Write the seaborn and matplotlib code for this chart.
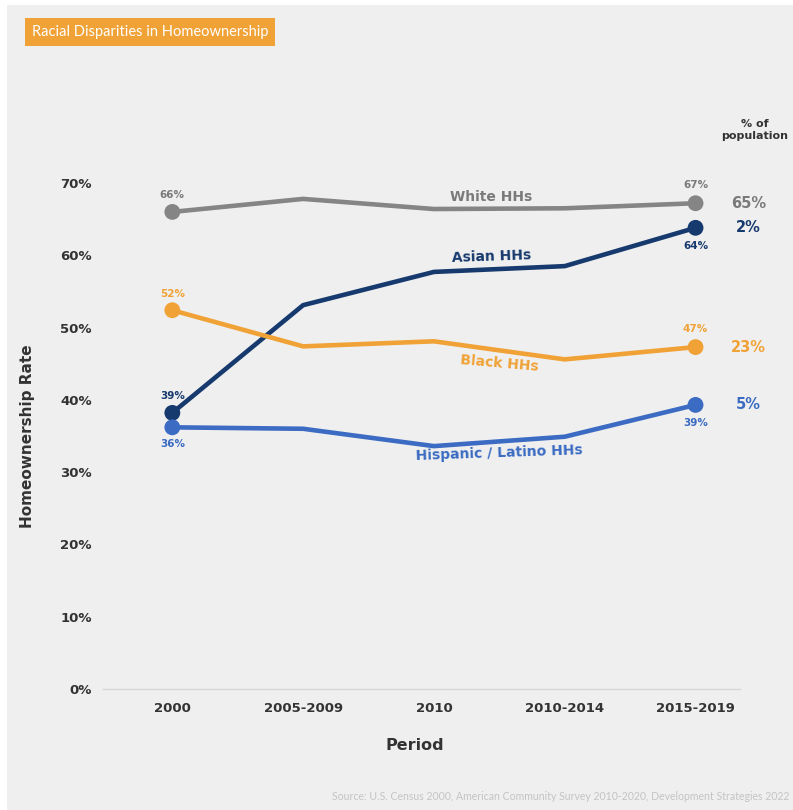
import pandas as pd
import seaborn as sns
import matplotlib.pyplot as plt
from matplotlib.patches import Rectangle

# data
periods = ["2000", "2005-2009", "2010", "2010-2014", "2015-2019"]
groups = ["White HHs", "Asian HHs", "Black HHs", "Hispanic / Latino HHs"]
white = [66.0, 67.8, 66.4, 66.5, 67.2]
asian = [38.2, 53.1, 57.7, 58.5, 63.8]
black = [52.4, 47.4, 48.1, 45.6, 47.3]
hispanic = [36.2, 36.0, 33.6, 34.9, 39.3]
start_labels = ["66%", "39%", "52%", "36%"]
end_labels = ["67%", "64%", "47%", "39%"]
pop_share = ["65%", "2%", "23%", "5%"]

colors = {"White HHs": "#858585", "Asian HHs": "#173a6e",
          "Black HHs": "#f0a236", "Hispanic / Latino HHs": "#3b6bc2"}
label_colors = {"White HHs": "#7a7a7a", "Asian HHs": "#173a6e",
                "Black HHs": "#f0a236", "Hispanic / Latino HHs": "#3b6bc2"}
start_side = [1, 1, 1, -1]
end_side = [1, -1, 1, -1]
# inline series names (x in category units, y in %), rotation
name_pos = [(2.44, 68.0, 0), (2.44, 59.8, 2), (2.50, 45.0, -5), (2.50, 32.6, 2)]

rows = []
for g, vals in zip(groups, [white, asian, black, hispanic]):
    for i, v in enumerate(vals):
        rows.append({"group": g, "pos": i, "period": periods[i], "rate": v})
df = pd.DataFrame(rows)
ends = df[df["pos"].isin([0, len(periods) - 1])]

sns.set_theme(style="white")
plt.rcParams["font.family"] = ["DejaVu Sans"]

fig = plt.figure(figsize=(7.93, 8.10), dpi=100, facecolor="white")
fig.patches.append(Rectangle((7 / 793, 0), 1, 805 / 810, transform=fig.transFigure,
                             facecolor="#efefef", edgecolor="none", zorder=-10))
ax = fig.add_axes([103 / 793, 121 / 810, 637 / 793, 506 / 810])
ax.set_facecolor("#efefef")

sns.lineplot(data=df, x="pos", y="rate", hue="group", palette=colors,
             linewidth=3.3, legend=False, sort=False, ax=ax, clip_on=False)
sns.scatterplot(data=ends, x="pos", y="rate", hue="group", palette=colors,
                s=130, edgecolor="none", legend=False, ax=ax, clip_on=False, zorder=5)

ax.set_xlim(-0.53, 4.34)
ax.set_ylim(0, 70)
ax.set_xticks(range(len(periods)))
ax.set_xticklabels(periods)
ax.set_yticks(range(0, 71, 10))
ax.set_yticklabels([f"{t}%" for t in range(0, 71, 10)])
ax.tick_params(length=0, labelsize=9.5, labelcolor="#333333", pad=8)
for lab in ax.get_xticklabels() + ax.get_yticklabels():
    lab.set_fontweight("bold")
ax.tick_params(axis="x", pad=9)

for s in ["top", "right", "left"]:
    ax.spines[s].set_visible(False)
ax.spines["bottom"].set_color("#d6d6d6")
ax.spines["bottom"].set_linewidth(1)

ax.set_xlabel("Period", fontsize=11.5, fontweight="bold", color="#333333")
ax.set_ylabel("Homeownership Rate", fontsize=11, fontweight="bold", color="#333333")
ax.xaxis.set_label_coords(0.49, -0.097)
ax.yaxis.set_label_coords(-0.107, 0.5)

last = len(periods) - 1
for k, (g, vals) in enumerate(zip(groups, [white, asian, black, hispanic])):
    c = label_colors[g]
    ax.annotate(start_labels[k], (0, vals[0]), xytext=(0, 12 * start_side[k]),
                textcoords="offset points", ha="center", va="center",
                fontsize=7.5, fontweight="bold", color=c)
    ax.annotate(end_labels[k], (last, vals[-1]), xytext=(0, 13 * end_side[k]),
                textcoords="offset points", ha="center", va="center",
                fontsize=7.5, fontweight="bold", color=c)
    ax.annotate(pop_share[k], (last, vals[-1]), xytext=(38, 0),
                textcoords="offset points", ha="center", va="center",
                fontsize=10.5, fontweight="bold", color=c, annotation_clip=False)
    nx, ny, rot = name_pos[k]
    ax.text(nx, ny, g, ha="center", va="center", fontsize=10, fontweight="bold",
            color=c, rotation=rot)

fig.text(755 / 793, 1 - 130 / 810, "% of\npopulation", ha="center", va="center",
         fontsize=8, fontweight="bold", color="#333333", linespacing=1.3)

fig.text(32 / 793, 1 - 32 / 810, "Racial Disparities in Homeownership", ha="left",
         va="center", fontsize=10.5, color="white", family=["Lato", "DejaVu Sans"],
         bbox=dict(boxstyle="square,pad=0.45", facecolor="#f0a236", edgecolor="none"))

fig.text(789 / 793, 1 - 797 / 810,
         "Source: U.S. Census 2000, American Community Survey 2010-2020, Development Strategies 2022",
         ha="right", va="center", fontsize=7.6, color="#c4c4c4", family=["Lato", "DejaVu Sans"])

fig.savefig("out.png", dpi=100, facecolor=fig.get_facecolor())
